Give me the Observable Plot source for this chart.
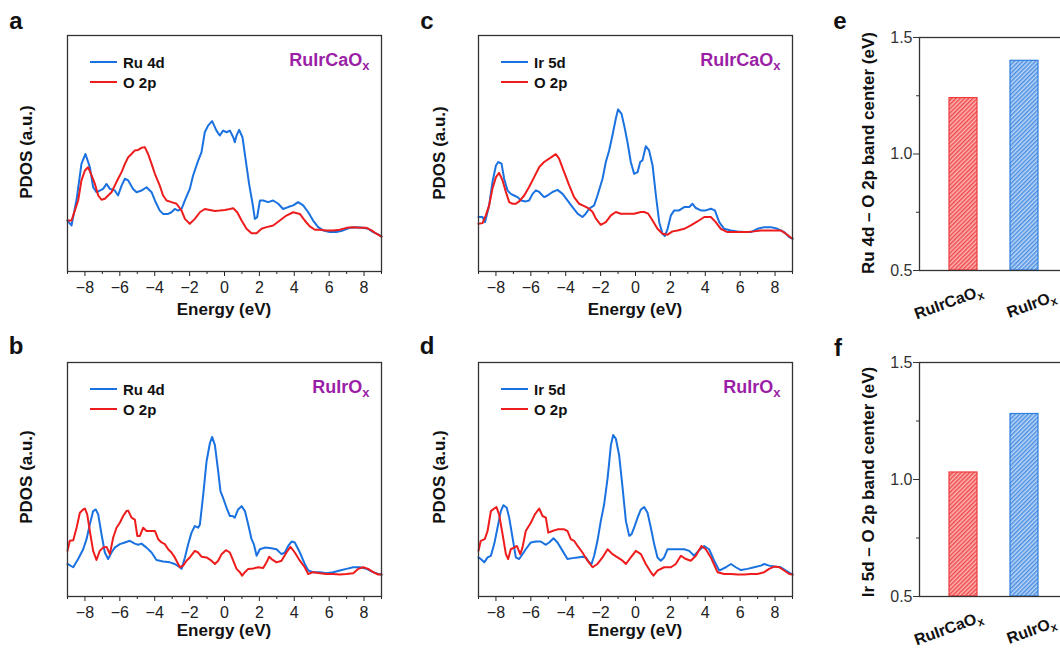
<!DOCTYPE html>
<html><head><meta charset="utf-8">
<script src="https://cdn.jsdelivr.net/npm/d3@7"></script>
<script src="https://cdn.jsdelivr.net/npm/@observablehq/plot@0.6"></script>
<style>
body{margin:0;background:#fff;}
#fig{position:relative;width:1060px;height:648px;overflow:hidden;background:#fff;font-family:'Liberation Sans',Arial,sans-serif;}
.lbl{position:absolute;white-space:nowrap;line-height:1;}
.swatch{position:absolute;height:2.5px;}
</style></head><body>
<svg width="0" height="0" style="position:absolute">
<defs>
<pattern id="hatchRed" patternUnits="userSpaceOnUse" width="3" height="3" patternTransform="rotate(45)">
<rect width="3" height="3" fill="#fbb6b6"/>
<line x1="0.75" y1="0" x2="0.75" y2="3" stroke="#f03b3b" stroke-width="1.3"/>
</pattern>
<pattern id="hatchBlue" patternUnits="userSpaceOnUse" width="3" height="3" patternTransform="rotate(45)">
<rect width="3" height="3" fill="#bcd6f6"/>
<line x1="0.75" y1="0" x2="0.75" y2="3" stroke="#3c86e0" stroke-width="1.3"/>
</pattern>
</defs>
</svg>
<div id="fig"></div>
<script>
// ---------- data ----------
const energyDomain = [-9, 9];
const majorEnergyTicks = [-8, -6, -4, -2, 0, 2, 4, 6, 8];
const minorEnergyTicks = [-9, -7, -5, -3, -1, 1, 3, 5, 7, 9];

// panel a: RuIrCaOx, Ru 4d and O 2p  [energy (eV), PDOS (a.u.)]
const aRu4d = [[-9,21.6],[-8.77,19.5],[-8.48,30.5],[-8.2,45.6],[-7.97,49.8],[-7.72,44.2],[-7.53,35.7],[-7.34,33.6],[-7.15,34.3],[-6.96,35.0],[-6.76,37.1],[-6.57,35.0],[-6.29,34.3],[-6.1,32.2],[-5.9,36.4],[-5.71,39.3],[-5.52,38.6],[-5.24,35.0],[-5.04,33.6],[-4.76,34.3],[-4.47,35.7],[-4.18,33.6],[-3.99,30.1],[-3.71,25.8],[-3.52,24.4],[-3.23,24.4],[-3.04,25.1],[-2.85,26.5],[-2.66,25.8],[-2.46,26.5],[-2.27,30.1],[-1.99,35.0],[-1.8,40.7],[-1.51,47.0],[-1.32,50.5],[-1.13,59.0],[-0.94,61.8],[-0.71,63.7],[-0.46,59.7],[-0.27,57.6],[-0.08,59.7],[0.12,59.0],[0.31,59.7],[0.5,56.9],[0.59,54.8],[0.69,57.6],[0.84,60.0],[1.03,56.9],[1.22,47.0],[1.41,37.1],[1.61,28.7],[1.74,22.3],[1.87,23.0],[2.03,30.1],[2.22,30.1],[2.5,29.4],[2.79,30.1],[3.08,28.7],[3.36,26.5],[3.65,27.3],[3.94,28.0],[4.22,29.4],[4.51,28.0],[4.8,25.1],[5.08,21.6],[5.37,18.8],[5.66,17.4],[6.04,16.7],[6.42,16.7],[6.8,17.4],[7.19,18.5],[7.57,18.8],[7.95,18.5],[8.24,18.1],[8.52,16.7],[8.81,15.7],[9,14.8]];
const aO2p = [[-9,21.6],[-8.77,21.6],[-8.58,25.8],[-8.39,30.1],[-8.2,38.6],[-8.0,42.8],[-7.82,44.2],[-7.62,40.7],[-7.43,37.1],[-7.24,32.2],[-7.05,30.4],[-6.86,30.8],[-6.67,32.2],[-6.48,33.6],[-6.29,36.4],[-6.1,39.3],[-5.9,42.1],[-5.71,45.6],[-5.52,48.4],[-5.33,49.8],[-5.14,51.3],[-4.95,51.5],[-4.76,52.4],[-4.57,52.7],[-4.38,49.8],[-4.18,45.6],[-3.99,41.4],[-3.71,36.4],[-3.52,32.2],[-3.32,30.1],[-3.04,29.4],[-2.75,28.7],[-2.46,25.8],[-2.27,22.3],[-1.99,20.2],[-1.7,22.3],[-1.41,25.1],[-1.13,26.5],[-0.84,26.1],[-0.55,25.6],[-0.27,25.8],[0.02,26.1],[0.31,26.5],[0.5,26.8],[0.73,25.1],[0.98,21.6],[1.26,18.1],[1.55,16.2],[1.84,16.2],[2.12,18.1],[2.41,18.8],[2.79,19.5],[3.17,21.6],[3.55,23.7],[3.94,25.1],[4.32,24.4],[4.6,21.6],[4.89,19.1],[5.18,17.7],[5.47,17.7],[5.85,17.4],[6.23,17.4],[6.61,17.7],[6.99,18.5],[7.38,18.8],[7.76,18.5],[8.14,18.5],[8.43,17.4],[8.71,16.0],[9,14.8]];

// panel c: RuIrCaOx, Ir 5d and O 2p
const cIr5d = [[-9,23.1],[-8.77,23.1],[-8.63,20.9],[-8.39,28.0],[-8.2,37.9],[-8.0,44.9],[-7.87,46.4],[-7.68,45.7],[-7.53,39.3],[-7.34,34.4],[-7.15,32.9],[-6.96,32.2],[-6.76,31.5],[-6.57,30.1],[-6.29,29.7],[-6.1,30.1],[-5.9,32.9],[-5.71,34.4],[-5.52,33.7],[-5.24,31.5],[-5.04,32.2],[-4.76,33.7],[-4.47,34.6],[-4.18,32.9],[-3.9,30.1],[-3.61,27.3],[-3.32,24.5],[-3.04,23.1],[-2.85,24.5],[-2.66,26.6],[-2.37,28.0],[-2.18,32.2],[-1.89,39.3],[-1.7,46.4],[-1.51,51.3],[-1.32,57.7],[-1.13,64.7],[-1.0,68.7],[-0.8,66.8],[-0.65,61.9],[-0.46,54.8],[-0.27,46.4],[-0.08,41.4],[0.12,42.1],[0.27,46.4],[0.4,47.1],[0.59,53.1],[0.78,51.3],[0.98,44.9],[1.17,32.2],[1.36,20.9],[1.55,16.0],[1.68,15.0],[1.84,18.1],[2.03,23.8],[2.22,25.9],[2.5,25.9],[2.79,27.3],[3.08,27.3],[3.27,28.7],[3.46,26.9],[3.75,25.9],[4.03,25.9],[4.32,26.6],[4.55,25.9],[4.8,20.9],[5.08,18.1],[5.47,17.4],[5.85,17.0],[6.23,16.7],[6.61,16.7],[6.99,18.1],[7.38,18.8],[7.76,18.8],[8.14,18.1],[8.52,16.7],[8.81,14.6],[9,13.9]];
const cO2p = [[-9,20.2],[-8.77,20.5],[-8.58,23.8],[-8.39,28.0],[-8.2,35.1],[-8.0,40.0],[-7.82,41.8],[-7.62,38.6],[-7.43,33.7],[-7.24,29.4],[-7.05,28.7],[-6.86,28.7],[-6.67,29.7],[-6.38,32.2],[-6.1,35.8],[-5.81,40.0],[-5.52,44.2],[-5.24,46.4],[-4.95,47.8],[-4.76,48.8],[-4.57,49.7],[-4.38,47.8],[-4.09,42.1],[-3.8,36.5],[-3.52,31.5],[-3.23,28.7],[-2.94,27.7],[-2.66,26.6],[-2.46,25.2],[-2.27,22.4],[-1.99,19.8],[-1.7,20.9],[-1.41,23.8],[-1.13,25.2],[-0.84,24.5],[-0.46,24.5],[-0.08,24.5],[0.31,25.2],[0.5,25.2],[0.73,24.5],[0.98,21.6],[1.26,18.1],[1.55,16.0],[1.84,15.6],[2.12,17.0],[2.41,17.4],[2.79,18.1],[3.17,19.5],[3.55,21.2],[3.94,23.1],[4.32,23.1],[4.6,20.9],[4.89,18.1],[5.27,16.7],[5.66,16.7],[6.04,16.7],[6.42,16.7],[6.8,17.0],[7.19,17.4],[7.57,17.4],[7.95,17.4],[8.33,17.4],[8.62,16.0],[9,13.9]];

// panel b: RuIrOx, Ru 4d and O 2p
const bRu4d = [[-9,13.9],[-8.67,12.5],[-8.39,16.0],[-8.1,20.2],[-7.91,24.5],[-7.72,30.8],[-7.53,36.5],[-7.38,37.2],[-7.24,35.1],[-7.05,26.6],[-6.86,18.8],[-6.67,16.0],[-6.48,18.8],[-6.29,20.9],[-6.0,22.4],[-5.71,23.1],[-5.43,23.8],[-5.14,22.6],[-4.95,22.1],[-4.76,22.6],[-4.47,20.9],[-4.18,18.8],[-3.9,15.6],[-3.52,15.0],[-3.13,14.6],[-2.85,13.9],[-2.56,12.5],[-2.46,11.8],[-2.27,16.7],[-2.08,22.4],[-1.89,27.3],[-1.7,30.1],[-1.51,29.4],[-1.41,30.8],[-1.22,43.5],[-1.03,57.7],[-0.84,65.4],[-0.71,68.2],[-0.55,64.7],[-0.36,53.4],[-0.23,44.9],[-0.08,42.1],[0.12,37.9],[0.31,34.4],[0.46,34.4],[0.59,33.7],[0.78,37.2],[0.98,38.6],[1.17,36.5],[1.36,30.8],[1.55,24.5],[1.68,22.4],[1.84,17.4],[2.03,20.2],[2.31,20.9],[2.6,20.7],[2.98,20.2],[3.27,18.1],[3.46,18.8],[3.65,21.6],[3.85,23.5],[4.03,23.1],[4.32,18.8],[4.6,13.9],[4.8,11.1],[5.08,10.4],[5.47,10.4],[5.85,9.9],[6.23,10.4],[6.61,11.1],[6.99,11.8],[7.38,12.5],[7.76,12.5],[8.14,11.8],[8.52,10.4],[8.81,9.6],[9,9.4]];
const bO2p = [[-9,19.5],[-8.87,23.8],[-8.67,24.0],[-8.48,29.4],[-8.29,35.8],[-8.1,37.2],[-8.0,37.6],[-7.87,35.1],[-7.72,28.0],[-7.53,19.5],[-7.34,15.6],[-7.15,19.5],[-6.96,20.9],[-6.76,21.2],[-6.57,18.1],[-6.38,25.2],[-6.19,29.4],[-6.0,31.5],[-5.81,34.4],[-5.62,36.5],[-5.52,36.7],[-5.33,33.7],[-5.14,32.9],[-5.0,25.9],[-4.85,25.9],[-4.66,29.4],[-4.47,28.0],[-4.18,28.0],[-3.99,28.0],[-3.8,24.5],[-3.61,23.1],[-3.42,22.4],[-3.23,20.2],[-3.04,18.8],[-2.85,16.7],[-2.56,12.5],[-2.37,13.2],[-2.18,15.3],[-1.99,16.7],[-1.7,19.5],[-1.51,18.8],[-1.32,17.0],[-1.03,16.7],[-0.75,15.3],[-0.55,13.9],[-0.36,15.3],[-0.17,18.1],[0.08,19.8],[0.31,18.8],[0.5,15.3],[0.69,11.8],[0.88,10.4],[1.01,8.9],[1.17,10.4],[1.36,11.8],[1.65,12.0],[1.93,12.5],[2.22,12.2],[2.41,14.6],[2.56,17.0],[2.7,16.0],[2.98,14.6],[3.27,15.3],[3.55,18.8],[3.78,21.2],[4.03,18.8],[4.32,15.3],[4.6,12.5],[4.8,9.6],[5.08,10.4],[5.47,9.9],[5.85,9.6],[6.23,9.6],[6.61,9.4],[6.99,9.6],[7.38,9.9],[7.66,11.8],[7.95,12.5],[8.24,11.8],[8.52,10.4],[8.81,9.4],[9,9.4]];

// panel d: RuIrOx, Ir 5d and O 2p
const dIr5d = [[-9,16.7],[-8.87,16.0],[-8.67,14.6],[-8.48,16.7],[-8.29,17.4],[-8.1,22.4],[-7.91,29.4],[-7.72,36.5],[-7.57,39.0],[-7.38,37.9],[-7.24,33.7],[-7.05,25.2],[-6.86,16.7],[-6.67,16.0],[-6.48,18.1],[-6.29,20.2],[-6.0,23.1],[-5.71,23.5],[-5.43,23.5],[-5.14,22.1],[-4.95,23.1],[-4.7,24.9],[-4.47,23.1],[-4.18,19.5],[-3.9,16.0],[-3.61,16.4],[-3.32,16.7],[-3.04,17.0],[-2.85,16.7],[-2.66,14.6],[-2.52,13.9],[-2.37,17.4],[-2.18,23.8],[-1.99,32.2],[-1.8,39.3],[-1.6,50.6],[-1.41,64.7],[-1.28,69.0],[-1.13,67.5],[-0.94,60.5],[-0.74,46.4],[-0.55,32.2],[-0.36,25.9],[-0.23,26.6],[-0.08,29.4],[0.12,33.7],[0.31,37.2],[0.5,38.2],[0.69,35.8],[0.88,29.4],[1.07,22.4],[1.26,16.7],[1.45,15.3],[1.64,16.7],[1.84,20.2],[2.03,20.2],[2.41,20.2],[2.79,20.2],[3.08,19.5],[3.36,17.4],[3.65,19.8],[3.94,21.6],[4.22,20.2],[4.51,15.3],[4.8,11.1],[5.18,12.5],[5.47,13.9],[5.75,12.5],[6.04,11.3],[6.42,11.8],[6.8,12.5],[7.19,13.2],[7.38,13.9],[7.66,13.2],[7.95,12.8],[8.33,12.5],[8.62,11.1],[9,9.4]];
const dO2p = [[-9,19.5],[-8.87,23.8],[-8.64,24.5],[-8.48,28.0],[-8.29,36.5],[-8.1,37.6],[-7.97,38.2],[-7.82,35.1],[-7.62,26.6],[-7.43,18.1],[-7.3,16.0],[-7.15,20.2],[-6.96,20.9],[-6.8,21.6],[-6.61,18.1],[-6.48,20.9],[-6.29,28.0],[-6.0,31.5],[-5.77,35.1],[-5.52,37.6],[-5.33,34.4],[-5.14,33.7],[-5.0,27.3],[-4.76,28.0],[-4.47,28.7],[-4.09,28.7],[-3.9,28.0],[-3.71,24.5],[-3.52,23.8],[-3.32,21.6],[-3.04,18.8],[-2.75,15.3],[-2.46,12.5],[-2.18,13.9],[-1.89,16.7],[-1.6,20.2],[-1.32,18.1],[-1.03,16.7],[-0.74,15.3],[-0.55,13.9],[-0.27,16.7],[0.02,19.5],[0.31,18.1],[0.59,13.9],[0.88,10.4],[1.03,8.9],[1.26,11.1],[1.64,12.5],[2.03,12.5],[2.31,13.9],[2.6,17.4],[2.89,16.0],[3.17,15.3],[3.46,17.4],[3.78,21.6],[4.03,20.2],[4.32,16.7],[4.7,10.4],[5.08,9.6],[5.47,9.6],[5.85,9.4],[6.23,9.4],[6.61,9.6],[6.99,9.6],[7.38,10.4],[7.66,11.8],[7.95,12.8],[8.24,12.5],[8.52,11.1],[8.81,9.6],[9,9.4]];

// panels e, f: band centers (eV)
const bandSamples = ["RuIrCaOx", "RuIrOx"];
const ruBandCenter = [1.24, 1.40];
const irBandCenter = [1.03, 1.28];
const bandTicks = [0.5, 1.0, 1.5];
const bandMinorTicks = [0.75, 1.25];

// ---------- styles ----------
const FONT = "'Liberation Sans', Arial, sans-serif";
const BLUE = "#1a72e0", RED = "#ee1c1c", PURPLE = "#9b1fa6";
const fig = document.getElementById("fig");
const NS = "http://www.w3.org/2000/svg";

function subscriptX(svg) {
  svg.querySelectorAll("text, tspan").forEach(t => {
    if (t.children.length === 0 && /Ox$/.test(t.textContent)) {
      const s = t.textContent;
      t.textContent = s.slice(0, -1);
      const ts = document.createElementNS(NS, "tspan");
      ts.setAttribute("dy", "0.3em");
      ts.setAttribute("font-size", "0.72em");
      ts.textContent = "x";
      t.appendChild(ts);
    }
  });
}
function place(el, left, top) {
  el.style.position = "absolute";
  el.style.left = left + "px";
  el.style.top = top + "px";
  fig.appendChild(el);
}
function label(text, x, y, o = {}) {
  const d = document.createElement("div");
  d.className = "lbl";
  d.textContent = text;
  d.style.fontSize = (o.size || 16) + "px";
  d.style.fontWeight = o.weight || "bold";
  d.style.color = o.color || "#111";
  d.style.left = x + "px";
  d.style.top = y + "px";
  const tx = o.anchor === "start" ? "0" : o.anchor === "end" ? "-100%" : "-50%";
  d.style.transform = `translate(${tx},-50%)` + (o.rotate ? ` rotate(${o.rotate}deg)` : "");
  fig.appendChild(d);
}
function swatch(color, x1, x2, y) {
  const d = document.createElement("div");
  d.className = "swatch";
  d.style.background = color;
  d.style.left = x1 + "px";
  d.style.width = (x2 - x1) + "px";
  d.style.top = (y - 1.25) + "px";
  fig.appendChild(d);
}

function pdosPanel(o) {
  const rows = (pairs) => pairs.map(([e, v]) => ({energy: e, pdos: v}));
  const svg = Plot.plot({
    width: 400, height: 330,
    marginLeft: 67, marginRight: 19, marginTop: o.mt, marginBottom: o.mb,
    style: {fontFamily: FONT, fontSize: "16px", color: "#222", background: "transparent", overflow: "visible"},
    x: {domain: energyDomain},
    y: {domain: [0, 100], axis: null},
    marks: [
      Plot.line(rows(o.metal), {x: "energy", y: "pdos", stroke: BLUE, strokeWidth: 2}),
      Plot.line(rows(o.oxygen), {x: "energy", y: "pdos", stroke: RED, strokeWidth: 2}),
      Plot.axisX({ticks: majorEnergyTicks, tickSize: 5, tickPadding: 5, fontSize: 16, label: null}),
      Plot.axisX({ticks: minorEnergyTicks, tickSize: 3, tickFormat: () => "", label: null}),
      Plot.frame({stroke: "#333", strokeWidth: 1.3}),
      Plot.text([o.compound], {text: d => d, frameAnchor: "top-right", textAnchor: "end", lineAnchor: "middle",
        dx: -12, dy: 25, fontSize: 18, fontWeight: "bold", fill: PURPLE})
    ]
  });
  subscriptX(svg);
  place(svg, o.left, o.top);
  // legend
  const lx = o.left;
  swatch(BLUE, lx + 90, lx + 117, o.legY);
  swatch(RED, lx + 90, lx + 117, o.legY + 20);
  label(o.metalName, lx + 123, o.legY, {size: 15, anchor: "start"});
  label("O 2p", lx + 123, o.legY + 20, {size: 15, anchor: "start"});
  // axis titles
  label("Energy (eV)", lx + 224, o.xTitleY, {size: 17});
  label("PDOS (a.u.)", o.yTitleX, o.yTitleY, {size: 17, rotate: -90});
}

pdosPanel({left: 0, top: 0, mt: 35, mb: 59, metal: aRu4d, oxygen: aO2p, metalName: "Ru 4d",
  compound: "RuIrCaOx", legY: 62, xTitleY: 309, yTitleX: 25.5, yTitleY: 152});
pdosPanel({left: 411, top: 0, mt: 35, mb: 59, metal: cIr5d, oxygen: cO2p, metalName: "Ir 5d",
  compound: "RuIrCaOx", legY: 62, xTitleY: 309, yTitleX: 438.5, yTitleY: 153});
pdosPanel({left: 0, top: 320, mt: 42, mb: 54, metal: bRu4d, oxygen: bO2p, metalName: "Ru 4d",
  compound: "RuIrOx", legY: 389, xTitleY: 630, yTitleX: 25.5, yTitleY: 477});
pdosPanel({left: 411, top: 320, mt: 42, mb: 54, metal: dIr5d, oxygen: dO2p, metalName: "Ir 5d",
  compound: "RuIrOx", legY: 389, xTitleY: 630, yTitleX: 438.5, yTitleY: 477});

function bandPanel(o) {
  const data = bandSamples.map((s, i) => ({sample: s, center: o.values[i]}));
  const svg = Plot.plot({
    width: 250, height: 330,
    marginLeft: 99, marginRight: 3, marginTop: o.mt, marginBottom: o.mb,
    style: {fontFamily: FONT, fontSize: "16px", color: "#333", background: "transparent", overflow: "visible"},
    x: {type: "band", domain: bandSamples, paddingInner: 0.548, paddingOuter: 0.468, axis: null},
    y: {domain: [bandTicks[0], bandTicks[2]]},
    marks: [
      Plot.barY(data, {filter: d => d.sample === bandSamples[0], x: "sample", y1: bandTicks[0], y2: "center",
        fill: "url(#hatchRed)", stroke: "#ee3b3b", strokeWidth: 1.2}),
      Plot.barY(data, {filter: d => d.sample === bandSamples[1], x: "sample", y1: bandTicks[0], y2: "center",
        fill: "url(#hatchBlue)", stroke: "#2f7fdc", strokeWidth: 1.2}),
      Plot.axisY({ticks: bandTicks, tickFormat: d3.format(".1f"), tickSize: 6, tickPadding: 1, fontSize: 16, label: null}),
      Plot.axisY({ticks: bandMinorTicks, tickSize: 3, tickFormat: () => "", label: null}),
      Plot.frame({stroke: "#333", strokeWidth: 1.3}),
      Plot.text(data, {filter: d => d.sample === bandSamples[0], x: "sample", text: "sample", frameAnchor: "bottom",
        rotate: -20, textAnchor: "middle", lineAnchor: "middle", dx: -15, dy: 32, fontSize: 16, fontWeight: "bold", fill: "#111"}),
      Plot.text(data, {filter: d => d.sample === bandSamples[1], x: "sample", text: "sample", frameAnchor: "bottom",
        rotate: -20, textAnchor: "middle", lineAnchor: "middle", dx: 7, dy: 34, fontSize: 16, fontWeight: "bold", fill: "#111"})
    ]
  });
  subscriptX(svg);
  place(svg, 820, o.top);
  label(o.title, 868, o.titleY, {size: 17, rotate: -90});
}
bandPanel({top: 0, mt: 37, mb: 60, values: ruBandCenter, title: "Ru 4d – O 2p band center (eV)", titleY: 152.5});
bandPanel({top: 320, mt: 42, mb: 54, values: irBandCenter, title: "Ir 5d – O 2p band center (eV)", titleY: 482});

// panel letters
label("a", 16, 21, {size: 24});
label("c", 427, 21, {size: 24});
label("b", 16, 346, {size: 24});
label("d", 427, 346, {size: 24});
label("e", 840, 21, {size: 24});
label("f", 838, 348, {size: 24});
</script>
</body></html>
